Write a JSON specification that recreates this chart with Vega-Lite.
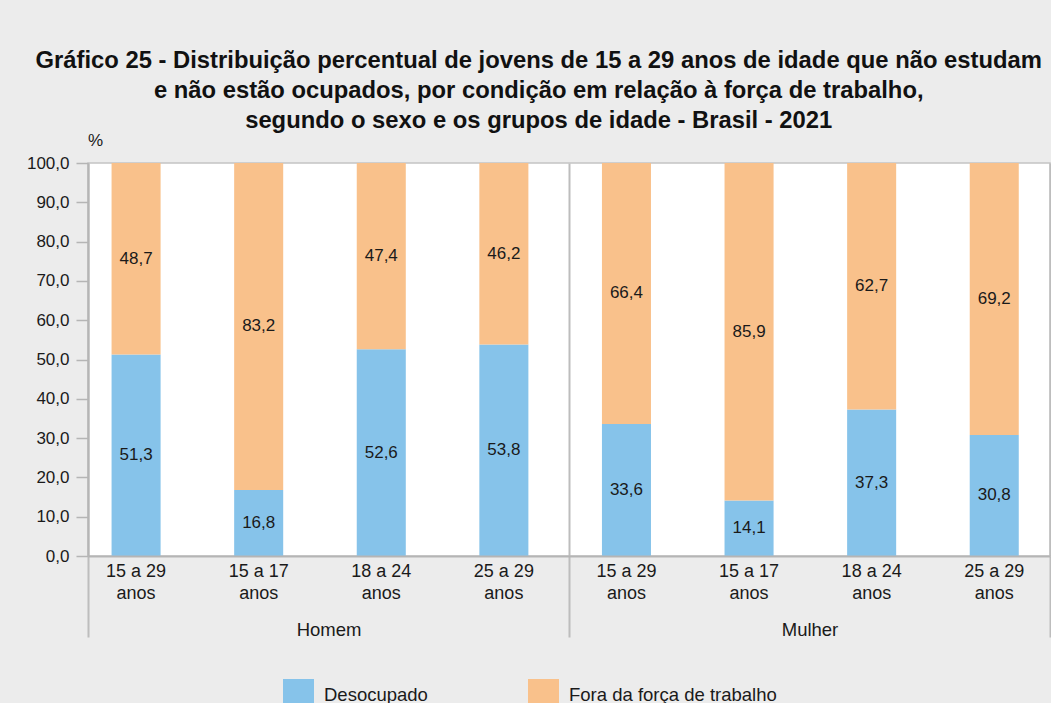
{
  "$schema": "https://vega.github.io/schema/vega-lite/v6.json",
  "width": 962,
  "height": 393,
  "autosize": {"type": "none"},
  "padding": {"left": 88, "top": 163, "right": 1, "bottom": 147},
  "background": "#ececec",
  "title": {
    "text": [
      "Gráfico 25 - Distribuição percentual de jovens de 15 a 29 anos de idade que não estudam",
      "e não estão ocupados, por condição em relação à força de trabalho,",
      "segundo o sexo e os grupos de idade - Brasil - 2021"
    ],
    "font": "Liberation Sans",
    "fontSize": 23.8,
    "fontWeight": "bold",
    "color": "#111111",
    "anchor": "middle",
    "frame": "bounds",
    "lineHeight": 30,
    "offset": -2,
    "zindex": 1
  },
  "data": {
    "values": [
      {"sexo": "Homem", "idade": "15 a 29", "key": "Homem|15 a 29", "condicao": "Desocupado", "ordem": 1, "valor": 51.3},
      {"sexo": "Homem", "idade": "15 a 29", "key": "Homem|15 a 29", "condicao": "Fora da força de trabalho", "ordem": 2, "valor": 48.7},
      {"sexo": "Homem", "idade": "15 a 17", "key": "Homem|15 a 17", "condicao": "Desocupado", "ordem": 1, "valor": 16.8},
      {"sexo": "Homem", "idade": "15 a 17", "key": "Homem|15 a 17", "condicao": "Fora da força de trabalho", "ordem": 2, "valor": 83.2},
      {"sexo": "Homem", "idade": "18 a 24", "key": "Homem|18 a 24", "condicao": "Desocupado", "ordem": 1, "valor": 52.6},
      {"sexo": "Homem", "idade": "18 a 24", "key": "Homem|18 a 24", "condicao": "Fora da força de trabalho", "ordem": 2, "valor": 47.4},
      {"sexo": "Homem", "idade": "25 a 29", "key": "Homem|25 a 29", "condicao": "Desocupado", "ordem": 1, "valor": 53.8},
      {"sexo": "Homem", "idade": "25 a 29", "key": "Homem|25 a 29", "condicao": "Fora da força de trabalho", "ordem": 2, "valor": 46.2},
      {"sexo": "Mulher", "idade": "15 a 29", "key": "Mulher|15 a 29", "condicao": "Desocupado", "ordem": 1, "valor": 33.6},
      {"sexo": "Mulher", "idade": "15 a 29", "key": "Mulher|15 a 29", "condicao": "Fora da força de trabalho", "ordem": 2, "valor": 66.4},
      {"sexo": "Mulher", "idade": "15 a 17", "key": "Mulher|15 a 17", "condicao": "Desocupado", "ordem": 1, "valor": 14.1},
      {"sexo": "Mulher", "idade": "15 a 17", "key": "Mulher|15 a 17", "condicao": "Fora da força de trabalho", "ordem": 2, "valor": 85.9},
      {"sexo": "Mulher", "idade": "18 a 24", "key": "Mulher|18 a 24", "condicao": "Desocupado", "ordem": 1, "valor": 37.3},
      {"sexo": "Mulher", "idade": "18 a 24", "key": "Mulher|18 a 24", "condicao": "Fora da força de trabalho", "ordem": 2, "valor": 62.7},
      {"sexo": "Mulher", "idade": "25 a 29", "key": "Mulher|25 a 29", "condicao": "Desocupado", "ordem": 1, "valor": 30.8},
      {"sexo": "Mulher", "idade": "25 a 29", "key": "Mulher|25 a 29", "condicao": "Fora da força de trabalho", "ordem": 2, "valor": 69.2}
    ]
  },
  "transform": [
    {"stack": "valor", "groupby": ["key"], "sort": [{"field": "ordem", "order": "ascending"}], "as": ["y0", "y1"]},
    {"calculate": "(datum.y0 + datum.y1) / 2", "as": "ymid"},
    {"calculate": "replace(format(datum.valor, '.1f'), '.', ',')", "as": "rotulo"}
  ],
  "layer": [
    {
      "mark": {"type": "bar"},
      "encoding": {
        "x": {
          "field": "key",
          "type": "nominal",
          "sort": null,
          "scale": {"type": "band", "paddingInner": 0.6, "paddingOuter": 0.2235, "align": 0.43},
          "axis": {
            "title": null,
            "orient": "bottom",
            "labelAngle": 0,
            "labelExpr": "[split(datum.value, '|')[1], 'anos']",
            "labelFont": "Liberation Sans",
            "labelFontSize": 18,
            "labelColor": "#1a1a1a",
            "labelLineHeight": 22,
            "labelPadding": 6,
            "ticks": false,
            "domain": true,
            "domainColor": "#b5b5b5",
            "domainWidth": 2,
            "zindex": 1
          }
        },
        "y": {
          "field": "y0",
          "type": "quantitative",
          "scale": {"domain": [0, 100], "nice": false},
          "axis": {
            "title": "%",
            "titleAngle": 0,
            "titleX": 7,
            "titleY": -23,
            "titleAlign": "center",
            "titleBaseline": "middle",
            "titleFont": "Liberation Sans",
            "titleFontSize": 17,
            "titleFontWeight": "normal",
            "titleColor": "#1a1a1a",
            "values": [0, 10, 20, 30, 40, 50, 60, 70, 80, 90, 100],
            "tickCount": 20,
            "labelOverlap": false,
            "labelExpr": "replace(format(datum.value, '.1f'), '.', ',')",
            "labelFont": "Liberation Sans",
            "labelFontSize": 17,
            "labelColor": "#1a1a1a",
            "labelPadding": 7,
            "tickSize": 12,
            "tickColor": "#b5b5b5",
            "tickWidth": 1.5,
            "domainColor": "#b5b5b5",
            "domainWidth": 2,
            "grid": false,
            "zindex": 1
          }
        },
        "y2": {"field": "y1"},
        "color": {
          "field": "condicao",
          "type": "nominal",
          "scale": {"domain": ["Desocupado", "Fora da força de trabalho"], "range": ["#86c3ea", "#f9c18b"]},
          "legend": {
            "title": null,
            "orient": "none",
            "legendX": 195,
            "legendY": 516,
            "direction": "horizontal",
            "symbolType": "square",
            "symbolSize": 961,
            "symbolStrokeWidth": 0,
            "labelFont": "Liberation Sans",
            "labelFontSize": 18.5,
            "labelColor": "#1a1a1a",
            "labelOffset": 10,
            "labelLimit": 400,
            "columnPadding": 100
          }
        }
      }
    },
    {
      "mark": {"type": "text", "font": "Liberation Sans", "fontSize": 17, "color": "#1a1a1a"},
      "encoding": {
        "x": {
          "field": "key",
          "type": "nominal",
          "sort": null,
          "scale": {"type": "band", "paddingInner": 0.6, "paddingOuter": 0.2235, "align": 0.43},
          "axis": null
        },
        "y": {
          "field": "ymid",
          "type": "quantitative",
          "scale": {"domain": [0, 100], "nice": false},
          "axis": {
            "title": "%",
            "titleAngle": 0,
            "titleX": 7,
            "titleY": -23,
            "titleAlign": "center",
            "titleBaseline": "middle",
            "titleFont": "Liberation Sans",
            "titleFontSize": 17,
            "titleFontWeight": "normal",
            "titleColor": "#1a1a1a",
            "values": [0, 10, 20, 30, 40, 50, 60, 70, 80, 90, 100],
            "tickCount": 20,
            "labelOverlap": false,
            "labelExpr": "replace(format(datum.value, '.1f'), '.', ',')",
            "labelFont": "Liberation Sans",
            "labelFontSize": 17,
            "labelColor": "#1a1a1a",
            "labelPadding": 7,
            "tickSize": 12,
            "tickColor": "#b5b5b5",
            "tickWidth": 1.5,
            "domainColor": "#b5b5b5",
            "domainWidth": 2,
            "grid": false,
            "zindex": 1
          }
        },
        "text": {"field": "rotulo"}
      }
    },
    {
      "mark": {"type": "tick", "opacity": 0},
      "encoding": {
        "x": {
          "field": "sexo",
          "type": "nominal",
          "scale": {"paddingInner": 0, "paddingOuter": 0},
          "axis": {
            "title": null,
            "orient": "bottom",
            "labelAngle": 0,
            "labelFont": "Liberation Sans",
            "labelFontSize": 18.5,
            "labelColor": "#1a1a1a",
            "labelPadding": -17,
            "tickBand": "extent",
            "tickSize": 81,
            "tickColor": "#bdbdbd",
            "tickWidth": 2,
            "domain": false,
            "grid": true,
            "gridColor": "#bdbdbd",
            "gridWidth": 2,
            "zindex": 0
          }
        }
      }
    }
  ],
  "resolve": {"scale": {"x": "independent"}},
  "config": {
    "view": {"stroke": "#c4c4c4", "strokeWidth": 1.5, "fill": "white"}
  }
}
